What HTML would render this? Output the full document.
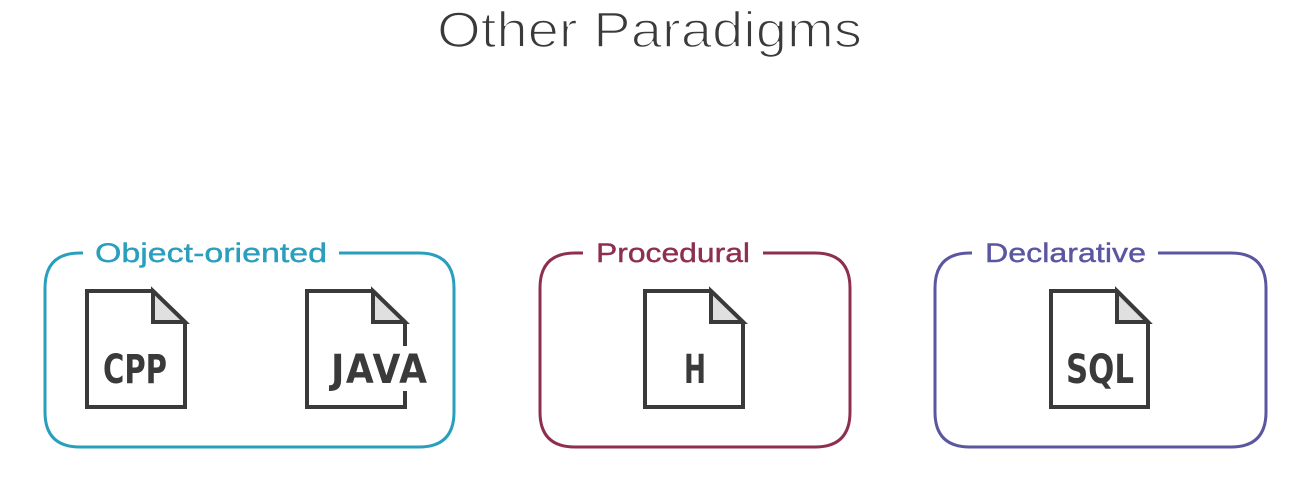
<!DOCTYPE html>
<html><head><meta charset="utf-8"><style>
html,body{margin:0;padding:0;background:#fff;}
svg{display:block;}
</style></head><body>
<svg width="1315" height="498" viewBox="0 0 1315 498" xmlns="http://www.w3.org/2000/svg">
<text x="437" y="47" font-family="Liberation Sans, sans-serif" font-size="50" fill="#3a3a3a" stroke="#fff" stroke-width="1.6" textLength="425" lengthAdjust="spacingAndGlyphs">Other Paradigms</text>

<!-- Object-oriented box -->
<path d="M83,253 L80,253 Q45,253 45,288 L45,412 Q45,447 80,447 L419,447 Q454,447 454,412 L454,288 Q454,253 419,253 L339,253" fill="none" stroke="#2a9fbd" stroke-width="3"/>
<text x="95" y="262" font-family="Liberation Sans, sans-serif" font-size="27" fill="#2a9fbd" stroke="#2a9fbd" stroke-width="0.4" textLength="232" lengthAdjust="spacingAndGlyphs">Object-oriented</text>

<!-- Procedural -->
<path d="M583,253 L575,253 Q540,253 540,288 L540,412 Q540,447 575,447 L815,447 Q850,447 850,412 L850,288 Q850,253 815,253 L763,253" fill="none" stroke="#8e2f52" stroke-width="3"/>
<text x="596" y="262" font-family="Liberation Sans, sans-serif" font-size="27" fill="#8e2f52" stroke="#8e2f52" stroke-width="0.4" textLength="154" lengthAdjust="spacingAndGlyphs">Procedural</text>

<!-- Declarative -->
<path d="M972,253 L970,253 Q935,253 935,288 L935,412 Q935,447 970,447 L1231,447 Q1266,447 1266,412 L1266,288 Q1266,253 1231,253 L1158,253" fill="none" stroke="#5a56a0" stroke-width="3"/>
<text x="985" y="262" font-family="Liberation Sans, sans-serif" font-size="27" fill="#5a56a0" stroke="#5a56a0" stroke-width="0.4" textLength="161" lengthAdjust="spacingAndGlyphs">Declarative</text>

<g fill="none" stroke="#3a3a3a" stroke-width="4" stroke-linejoin="miter">
  <path d="M87,291 L153,291 L185,322 L185,407 L87,407 Z"/>
  <path d="M153,291 L153,322 L185,322 Z" fill="#e0e0e0"/>
  <path d="M405,346 L405,322 L373,291 L307,291 L307,407 L405,407 L405,391"/>
  <path d="M373,291 L373,322 L405,322 Z" fill="#e0e0e0"/>
  <path d="M645,291 L711,291 L743,322 L743,407 L645,407 Z"/>
  <path d="M711,291 L711,322 L743,322 Z" fill="#e0e0e0"/>
  <path d="M1051,291 L1117,291 L1148,322 L1148,407 L1051,407 Z"/>
  <path d="M1117,291 L1117,322 L1148,322 Z" fill="#e0e0e0"/>
</g>
<g font-family="DejaVu Sans Condensed, DejaVu Sans, sans-serif" font-weight="bold" font-size="40" fill="#3a3a3a">
  <text x="103" y="383" textLength="64" lengthAdjust="spacingAndGlyphs">CPP</text>
  <text x="331" y="383" textLength="96" lengthAdjust="spacing">JAVA</text>
  <text x="684" y="383" textLength="22" lengthAdjust="spacingAndGlyphs">H</text>
  <text x="1066" y="383" textLength="68" lengthAdjust="spacingAndGlyphs">SQL</text>
</g>
</svg>
</body></html>
